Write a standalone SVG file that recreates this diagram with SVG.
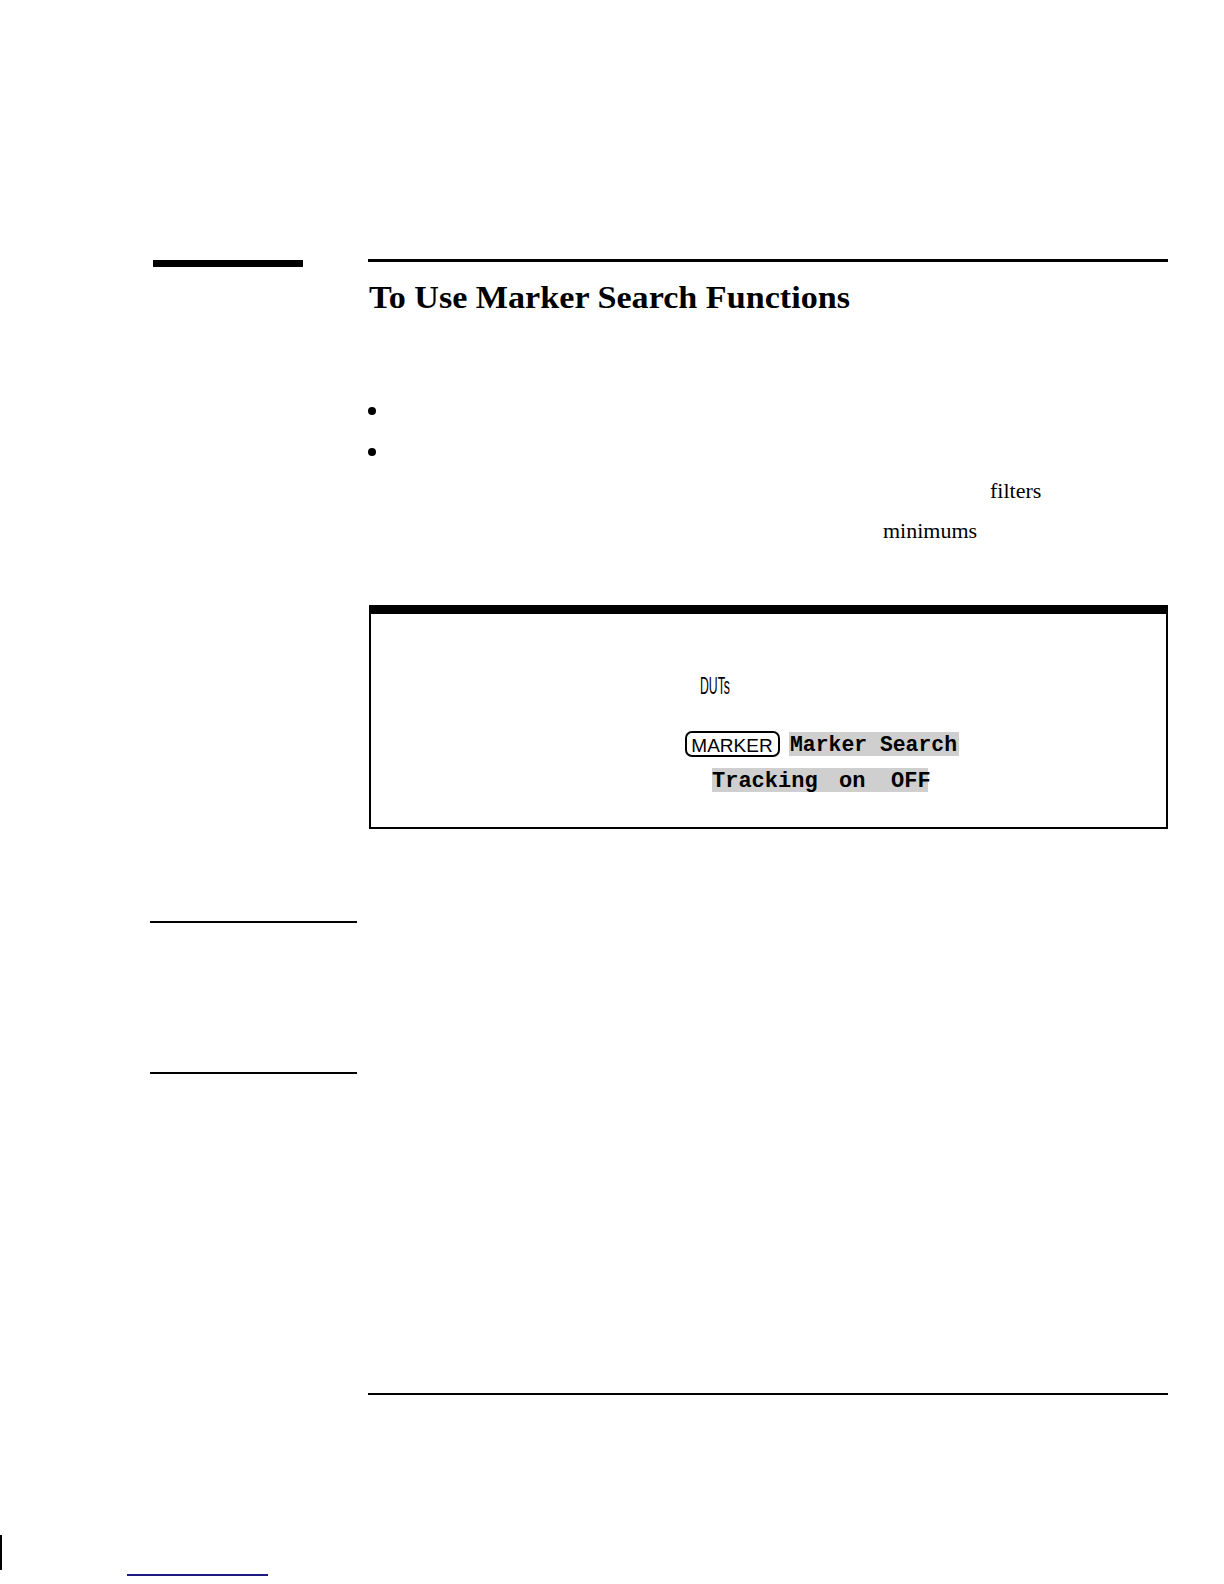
<svg xmlns="http://www.w3.org/2000/svg" width="1224" height="1584" viewBox="0 0 1224 1584">
<style>
.serif{font-family:"Liberation Serif",serif;fill:#000}
.mono{font-family:"Liberation Mono",monospace;font-weight:bold;font-size:22px;fill:#000}
.sk{fill:#cfcfcf}
.line{stroke:#000;fill:none}
</style>
<rect width="1224" height="1584" fill="#fff"/>
<rect x="153" y="260" width="150" height="7" fill="#000"/>
<line class="line" x1="368" y1="260.5" x2="1168" y2="260.5" stroke-width="3"/>
<text class="serif" x="369" y="308" font-size="32" font-weight="bold" textLength="481" lengthAdjust="spacingAndGlyphs">To Use Marker Search Functions</text>
<circle cx="372" cy="411" r="4" fill="#000"/>
<circle cx="372" cy="452" r="4" fill="#000"/>
<text class="serif" x="990" y="498" font-size="22">filters</text>
<text class="serif" x="883" y="538" font-size="22">minimums</text>
<g id="box">
<rect x="369" y="605" width="799" height="9" fill="#000"/>
<rect x="370" y="610" width="797" height="218" fill="none" stroke="#000" stroke-width="2"/>
<text x="700" y="694" font-family="Liberation Sans Narrow,Liberation Sans,sans-serif" font-size="23" textLength="30" lengthAdjust="spacingAndGlyphs">DUTs</text>
<rect x="686" y="732" width="93" height="24" rx="6" fill="#fff" stroke="#000" stroke-width="2"/>
<text x="732" y="752" text-anchor="middle" font-family="Liberation Sans,sans-serif" font-size="19">MARKER</text>
<rect class="sk" x="789" y="732" width="170" height="24"/>
<text class="mono" x="790" y="751" textLength="167" lengthAdjust="spacingAndGlyphs">Marker Search</text>
<rect class="sk" x="712" y="768" width="216" height="24"/>
<text class="mono" x="712" y="787">Tracking</text>
<text class="mono" x="839" y="787">on</text>
<text class="mono" x="891" y="787">OFF</text>
</g>
<line class="line" x1="150" y1="922" x2="357" y2="922" stroke-width="2"/>
<line class="line" x1="150" y1="1073" x2="357" y2="1073" stroke-width="2"/>
<line class="line" x1="368" y1="1394" x2="1168" y2="1394" stroke-width="2"/>
<line class="line" x1="1" y1="1535" x2="1" y2="1570" stroke-width="2"/>
<line x1="127" y1="1575" x2="268" y2="1575" stroke="#1a1a80" stroke-width="2"/>
</svg>
